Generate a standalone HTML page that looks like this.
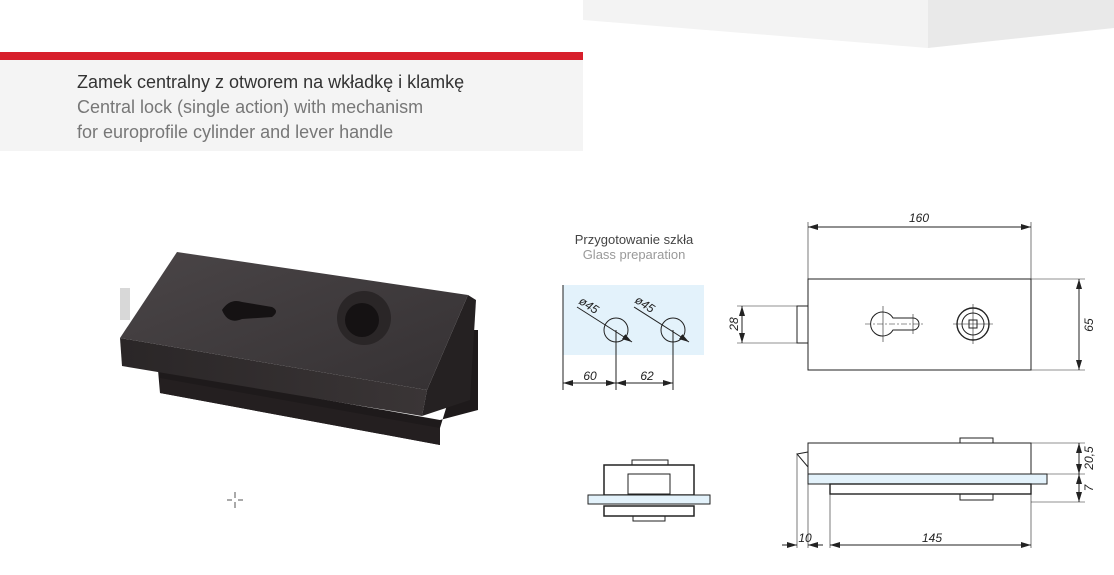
<!DOCTYPE html>
<html><head><meta charset="utf-8"><style>
html,body{margin:0;padding:0;background:#fff;}
body{width:1114px;height:575px;position:relative;overflow:hidden;font-family:"Liberation Sans Narrow","Liberation Sans",sans-serif;}
.t{position:absolute;left:77px;font-size:18px;white-space:nowrap;}
</style></head><body>
<svg width="1114" height="575" style="position:absolute;left:0;top:0">
<defs>
<marker id="a" viewBox="0 0 10 6" refX="10" refY="3" markerWidth="10" markerHeight="6" orient="auto-start-reverse" markerUnits="userSpaceOnUse"><path d="M0,0L10,3L0,6z" fill="#222"/></marker>
<linearGradient id="tg" x1="0" y1="0" x2="1" y2="1"><stop offset="0" stop-color="#4a4547"/><stop offset="1" stop-color="#353133"/></linearGradient>
<linearGradient id="fg" x1="0" y1="0" x2="1" y2="0"><stop offset="0" stop-color="#2a2627"/><stop offset="1" stop-color="#3a3536"/></linearGradient>
</defs>
<polygon points="583,0 928,0 928,48 583,20" fill="#f3f3f3"/>
<polygon points="928,0 1114,0 1114,28 928,48" fill="#e9e9e9"/>
<rect x="0" y="52" width="583" height="8" fill="#d71f2b"/>
<rect x="0" y="60" width="583" height="91" fill="#f4f4f4"/>

<!-- photo -->
<rect x="120" y="288" width="10" height="32" fill="#d8d8d8"/>
<polygon points="158,370 440,420 478,410 478,330 470,330 440,428 440,445 160,393" fill="#1e1a1b"/>
<polygon points="160,378 440,428 440,445 160,393" fill="#241f20"/>
<polygon points="120,338 427,390 422,416 122,366" fill="url(#fg)"/>
<polygon points="468,295 476,300 470,400 422,416 427,390" fill="#252122"/>
<polygon points="177,252 468,295 427,390 120,338" fill="url(#tg)"/>
<path d="M222,310 q8,-12 20,-8 l30,5 q8,4 0,10 l-30,2 q-14,6 -20,-9z" fill="#151213"/>
<circle cx="364" cy="318" r="27" fill="#2a2627"/>
<circle cx="362" cy="320" r="17" fill="#151213"/>
<g stroke="#555" stroke-width="1"><line x1="235" y1="492" x2="235" y2="498"/><line x1="235" y1="502" x2="235" y2="508"/><line x1="227" y1="500" x2="232" y2="500"/><line x1="238" y1="500" x2="243" y2="500"/></g>

<g font-family="Liberation Sans Narrow, Liberation Sans, sans-serif">
<text x="634" y="244" font-size="13" fill="#444" text-anchor="middle">Przygotowanie szkła</text>
<text x="634" y="259" font-size="13" fill="#999" text-anchor="middle">Glass preparation</text>
</g>

<g stroke="#222" stroke-width="1" fill="none">
<rect x="563" y="285" width="141" height="70" fill="#e3f2fb" stroke="none"/>
<line x1="563" y1="285" x2="563" y2="390"/>
<circle cx="616" cy="330" r="12"/><circle cx="673" cy="330" r="12"/>
<line x1="616" y1="330" x2="616" y2="390"/><line x1="673" y1="330" x2="673" y2="390"/>
<line x1="577" y1="307" x2="632" y2="342" marker-end="url(#a)"/>
<line x1="634" y1="307" x2="689" y2="342" marker-end="url(#a)"/>
<line x1="563" y1="383" x2="616" y2="383" marker-start="url(#a)" marker-end="url(#a)"/>
<line x1="616" y1="383" x2="673" y2="383" marker-start="url(#a)" marker-end="url(#a)"/>

<rect x="808" y="279" width="223" height="91"/>
<rect x="797" y="306" width="11" height="37"/>
<line x1="808" y1="279" x2="808" y2="222" stroke-width=".6"/><line x1="1031" y1="279" x2="1031" y2="222" stroke-width=".6"/>
<line x1="808" y1="227" x2="1031" y2="227" marker-start="url(#a)" marker-end="url(#a)"/>
<line x1="1031" y1="279" x2="1085" y2="279" stroke-width=".6"/><line x1="1031" y1="370" x2="1085" y2="370" stroke-width=".6"/>
<line x1="1079" y1="279" x2="1079" y2="370" marker-start="url(#a)" marker-end="url(#a)"/>
<line x1="737" y1="306" x2="797" y2="306" stroke-width=".6"/><line x1="737" y1="343" x2="797" y2="343" stroke-width=".6"/>
<line x1="742" y1="306" x2="742" y2="343" marker-start="url(#a)" marker-end="url(#a)"/>
<path d="M893,318 L913,318 A6,6 0 0 1 913,330 L893,330 A12,12 0 1 1 893,318z"/>
<g stroke-width=".6"><line x1="865" y1="324" x2="925" y2="324" stroke-dasharray="6,2,2,2"/><line x1="883" y1="306" x2="883" y2="342"/><line x1="913" y1="314" x2="913" y2="334"/>
<line x1="953" y1="324" x2="993" y2="324"/><line x1="973" y1="304" x2="973" y2="344"/></g>
<circle cx="973" cy="324" r="16" stroke-width="1.4"/><circle cx="973" cy="324" r="11"/>
<rect x="969" y="320" width="8" height="8"/>

<rect x="632" y="460" width="36" height="5"/>
<rect x="604" y="465" width="90" height="30" stroke-width="1.5"/>
<rect x="628" y="474" width="42" height="20"/>
<rect x="588" y="495" width="122" height="9" fill="#e3f2fb"/>
<rect x="604" y="506" width="90" height="10" stroke-width="1.5"/>
<rect x="633" y="516" width="32" height="5"/>

<rect x="960" y="438" width="33" height="5"/>
<rect x="808" y="443" width="223" height="31"/>
<polygon points="797,454 808,452 808,467"/>
<rect x="808" y="474" width="239" height="10" fill="#e3f2fb"/>
<rect x="830" y="484" width="201" height="10" stroke-width="1.4"/>
<rect x="960" y="494" width="33" height="6"/>
<g stroke-width=".6">
<line x1="797" y1="454" x2="797" y2="548"/><line x1="808" y1="474" x2="808" y2="548"/><line x1="830" y1="494" x2="830" y2="548"/><line x1="1031" y1="494" x2="1031" y2="548"/>
<line x1="1031" y1="443" x2="1085" y2="443"/><line x1="1047" y1="474" x2="1085" y2="474"/><line x1="1031" y1="502" x2="1085" y2="502"/>
</g>
<line x1="782" y1="545" x2="797" y2="545" marker-end="url(#a)"/>
<line x1="823" y1="545" x2="808" y2="545" marker-end="url(#a)"/>
<line x1="830" y1="545" x2="1031" y2="545" marker-start="url(#a)" marker-end="url(#a)"/>
<line x1="1079" y1="443" x2="1079" y2="474" marker-start="url(#a)" marker-end="url(#a)"/>
<line x1="1079" y1="474" x2="1079" y2="502" marker-start="url(#a)" marker-end="url(#a)"/>
</g>

<g font-family="Liberation Sans Narrow, Liberation Sans, sans-serif" font-style="italic" font-size="12" fill="#222">
<text x="590" y="380" text-anchor="middle">60</text>
<text x="647" y="380" text-anchor="middle">62</text>
<text x="578" y="303" transform="rotate(33 578 303)">ø45</text>
<text x="634" y="302" transform="rotate(33 634 302)">ø45</text>
<text x="919" y="222" text-anchor="middle">160</text>
<text x="1093" y="325" text-anchor="middle" transform="rotate(-90 1093 325)">65</text>
<text x="738" y="324" text-anchor="middle" transform="rotate(-90 738 324)">28</text>
<text x="1093" y="458" text-anchor="middle" transform="rotate(-90 1093 458)">20,5</text>
<text x="1093" y="488" text-anchor="middle" transform="rotate(-90 1093 488)">7</text>
<text x="805" y="542" text-anchor="middle">10</text>
<text x="932" y="542" text-anchor="middle">145</text>
</g>
</svg>
<div class="t" style="top:72px;color:#333;">Zamek centralny z otworem na wkładkę i klamkę</div>
<div class="t" style="top:97px;color:#777;">Central lock (single action) with mechanism</div>
<div class="t" style="top:122px;color:#777;">for europrofile cylinder and lever handle</div>
</body></html>
